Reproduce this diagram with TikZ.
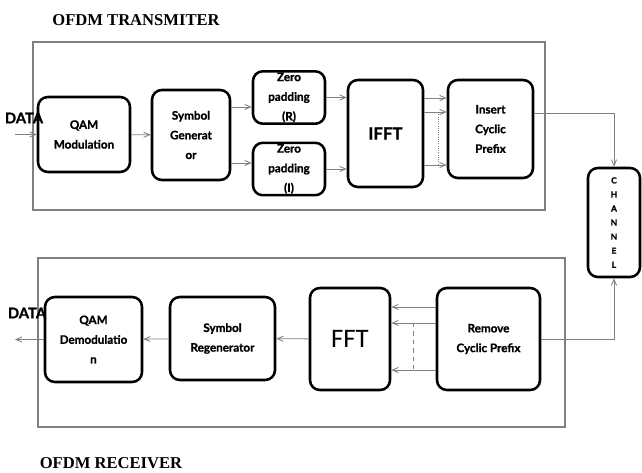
\documentclass[tikz,border=0pt]{standalone}
\usepackage{fontspec}
\setmainfont{Liberation Serif}
\setsansfont{Lato}[BoldFeatures={FakeBold=1.2}]
\newfontfamily\fftfont{Carlito}
\usepackage{tikz}
\usetikzlibrary{arrows,shapes,positioning}
\definecolor{ofgray}{RGB}{128,128,128}
\tikzstyle{arrow} = [->,>=angle 45,color=ofgray,line width=0.6pt]
\tikzstyle{frame} = [rectangle, draw=ofgray, line width=0.8pt, inner sep=0pt]
\tikzstyle{block} = [rectangle, rounded corners=7pt, draw=black, line width=1.8pt, text centered, align=center, inner sep=1pt, font=\sffamily\bfseries\fontsize{8.3}{14}\selectfont]
\tikzstyle{title} = [font=\rmfamily\bfseries\fontsize{11.8}{14}\selectfont]
\tikzstyle{datalabel} = [font=\sffamily\bfseries\fontsize{10.5}{12}\selectfont]

\begin{document}
\begin{tikzpicture}
    \useasboundingbox (0,0) rectangle (16.05,-11.8);

    % Frames and titles
    \node[frame, minimum width=12.8cm, minimum height=4.2cm] (tx) at (7.225,-3.15) {};
    \node[frame, minimum width=13.175cm, minimum height=4.225cm] (rx) at (7.5375,-8.5625) {};
    \node[title] (txtitle) at (3.4,-0.5) {OFDM TRANSMITER};
    \node[title] (rxtitle) at (2.775,-11.575) {OFDM RECEIVER};

    % Transmitter blocks
    \node[block, minimum width=2.3cm, minimum height=1.875cm] (qam) at (2.1,-3.3625) {QAM\\Modulation};
    \node[block, minimum width=1.95cm, minimum height=2.25cm] (symgen) at (4.775,-3.375) {Symbol\\Generat\\or};
    \node[block, minimum width=1.8cm, minimum height=1.275cm] (zpr) at (7.225,-2.4375) {Zero\\padding\\(R)};
    \node[block, minimum width=1.8cm, minimum height=1.3cm] (zpi) at (7.225,-4.225) {Zero\\padding\\(I)};
    \node[block, minimum width=1.875cm, minimum height=2.675cm, font=\sffamily\bfseries\fontsize{12}{14}\selectfont] (ifft) at (9.6375,-3.3375) {IFFT};
    \node[block, minimum width=2.125cm, minimum height=2.45cm] (icp) at (12.2625,-3.225) {Insert\\Cyclic\\Prefix};

    % Channel
    \node[block, minimum width=1.3cm, minimum height=2.725cm, font=\sffamily\bfseries\fontsize{6}{10}\selectfont] (channel) at (15.35,-5.5625) {C\\H\\A\\N\\N\\E\\L};

    % Receiver blocks
    \node[block, minimum width=2.575cm, minimum height=2.55cm] (rcp) at (12.2125,-8.475) {Remove\\Cyclic Prefix};
    \node[block, minimum width=2cm, minimum height=2.55cm, font=\fftfont\fontsize{19}{22}\selectfont] (fft) at (8.75,-8.475) {FFT};
    \node[block, minimum width=2.625cm, minimum height=2.075cm] (symregen) at (5.5625,-8.4625) {Symbol\\Regenerator};
    \node[block, minimum width=2.425cm, minimum height=2.125cm] (qamdemod) at (2.3375,-8.4875) {QAM\\Demodulatio\\n};

    % Data in and out
    \coordinate (datain) at (0.375,-3.3625);
    \coordinate (dataout) at (0.375,-8.4875);
    \node[datalabel] (dinlabel) at (0.6,-2.95) {DATA};
    \node[datalabel] (doutlabel) at (0.675,-7.825) {DATA};

    % Transmitter arrows
    \draw[arrow] (datain) -- (qam);
    \draw[arrow] (qam) -- (symgen);
    \coordinate (sgr) at ([yshift=7mm]symgen.east);
    \coordinate (sgi) at ([yshift=-7mm]symgen.east);
    \draw[arrow] (sgr) -- (sgr -| zpr.west);
    \draw[arrow] (sgi) -- (sgi -| zpi.west);
    \draw[arrow] (zpr.east) -- (zpr.east -| ifft.west);
    \draw[arrow] (zpi.east) -- (zpi.east -| ifft.west);
    \foreach \y in {-2.45,-2.8,-4.125}
        \draw[arrow] (ifft.east |- 0,\y) -- (icp.west |- 0,\y);
    \draw[ofgray, densely dotted, line width=0.6pt] (10.95,-2.8) -- (10.95,-4.125);
    \draw[arrow] ([yshift=4mm]icp.east) -| (channel.north);

    % Receiver arrows
    \draw[arrow] (rcp.east) -| (channel.south);
    \foreach \y in {-7.675,-8.075,-9.25}
        \draw[arrow] (rcp.west |- 0,\y) -- (fft.east |- 0,\y);
    \draw[ofgray, dashed, line width=0.6pt] (10.325,-8.075) -- (10.325,-9.25);
    \draw[arrow] (fft) -- (symregen);
    \draw[arrow] (symregen) -- (qamdemod);
    \draw[arrow] (qamdemod) -- (dataout);
\end{tikzpicture}
\end{document}
